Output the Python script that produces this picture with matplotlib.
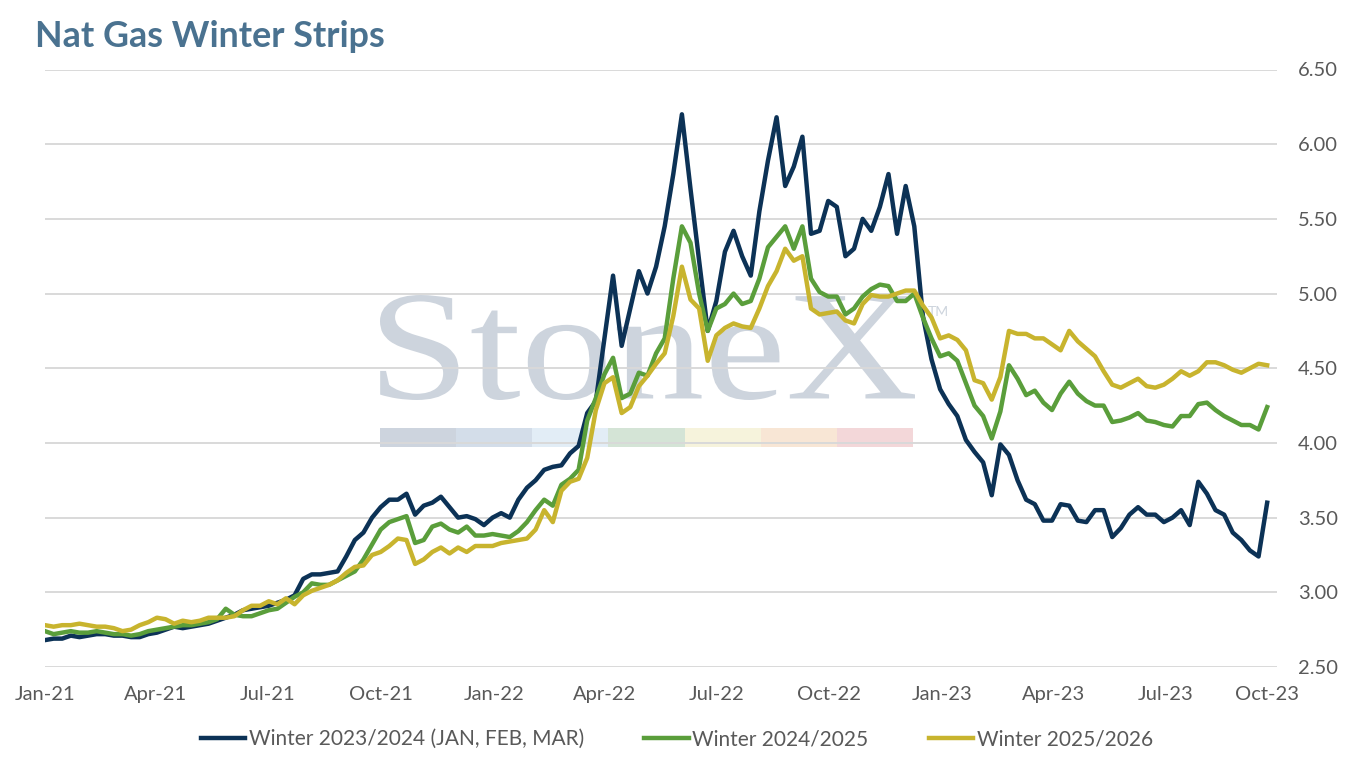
import numpy as np
import pandas as pd
import matplotlib
matplotlib.use("Agg")
import matplotlib.pyplot as plt
from matplotlib.textpath import TextPath
from matplotlib.patches import PathPatch, Rectangle
from matplotlib.font_manager import FontProperties
from matplotlib.transforms import Affine2D

plt.rcParams['font.family'] = ['Lato', 'DejaVu Sans']

# weekly readings, first Friday of 2021 onwards
dates = pd.date_range('2021-01-01', periods=143, freq='7D')

navy = [2.68,2.69,2.69,2.71,2.70,2.71,2.72,2.72,2.71,2.71,
        2.70,2.70,2.72,2.73,2.75,2.77,2.76,2.77,2.78,2.79,
        2.81,2.83,2.85,2.88,2.89,2.90,2.91,2.93,2.95,2.98,
        3.09,3.12,3.12,3.13,3.14,3.24,3.35,3.40,3.50,3.57,
        3.62,3.62,3.66,3.52,3.58,3.60,3.64,3.57,3.50,3.51,
        3.49,3.45,3.50,3.53,3.50,3.62,3.70,3.75,3.82,3.84,
        3.85,3.93,3.98,4.20,4.28,4.70,5.12,4.65,4.90,5.15,
        5.00,5.18,5.45,5.80,6.20,5.70,5.22,4.75,4.95,5.28,
        5.42,5.25,5.12,5.55,5.89,6.18,5.72,5.85,6.05,5.40,
        5.42,5.62,5.58,5.25,5.30,5.50,5.42,5.58,5.80,5.40,
        5.72,5.45,4.85,4.56,4.36,4.26,4.18,4.02,3.94,3.87,
        3.65,3.99,3.92,3.75,3.62,3.59,3.48,3.48,3.59,3.58,
        3.48,3.47,3.55,3.55,3.37,3.43,3.52,3.57,3.52,3.52,
        3.47,3.50,3.55,3.45,3.74,3.66,3.55,3.52,3.40,3.35,
        3.28,3.24,3.60]

green = [2.74,2.72,2.73,2.74,2.73,2.73,2.74,2.73,2.72,2.72,
         2.71,2.72,2.74,2.75,2.76,2.77,2.78,2.78,2.79,2.80,
         2.82,2.89,2.85,2.84,2.84,2.86,2.88,2.89,2.93,2.97,
         3.00,3.06,3.05,3.05,3.08,3.11,3.14,3.22,3.32,3.42,
         3.47,3.49,3.51,3.33,3.35,3.44,3.46,3.42,3.40,3.44,
         3.38,3.38,3.39,3.38,3.37,3.41,3.47,3.55,3.62,3.58,
         3.72,3.76,3.82,4.15,4.30,4.46,4.57,4.30,4.33,4.47,
         4.45,4.60,4.70,5.10,5.45,5.34,5.00,4.75,4.90,4.93,
         5.00,4.93,4.95,5.10,5.31,5.38,5.45,5.30,5.45,5.10,
         5.01,4.98,4.98,4.86,4.90,4.98,5.03,5.06,5.05,4.95,
         4.95,5.00,4.84,4.70,4.58,4.60,4.55,4.40,4.25,4.18,
         4.03,4.21,4.52,4.43,4.32,4.35,4.27,4.22,4.33,4.41,
         4.33,4.28,4.25,4.25,4.14,4.15,4.17,4.20,4.15,4.14,
         4.12,4.11,4.18,4.18,4.26,4.27,4.22,4.18,4.15,4.12,
         4.12,4.09,4.24]

gold = [2.78,2.77,2.78,2.78,2.79,2.78,2.77,2.77,2.76,2.74,
        2.75,2.78,2.80,2.83,2.82,2.79,2.81,2.80,2.81,2.83,
        2.83,2.83,2.84,2.88,2.91,2.91,2.94,2.92,2.96,2.92,
        2.98,3.01,3.03,3.05,3.08,3.13,3.17,3.18,3.25,3.27,
        3.31,3.36,3.35,3.19,3.22,3.27,3.30,3.26,3.30,3.27,
        3.31,3.31,3.31,3.33,3.34,3.35,3.36,3.42,3.55,3.47,
        3.68,3.74,3.76,3.90,4.22,4.40,4.44,4.20,4.24,4.38,
        4.45,4.53,4.60,4.85,5.18,4.96,4.90,4.55,4.72,4.77,
        4.80,4.78,4.77,4.90,5.05,5.15,5.30,5.22,5.25,4.90,
        4.86,4.87,4.88,4.82,4.80,4.93,4.99,4.98,4.98,5.00,
        5.02,5.02,4.92,4.84,4.70,4.72,4.69,4.62,4.42,4.40,
        4.29,4.44,4.75,4.73,4.73,4.70,4.70,4.66,4.62,4.75,
        4.68,4.63,4.58,4.48,4.39,4.37,4.40,4.43,4.38,4.37,
        4.39,4.43,4.48,4.45,4.48,4.54,4.54,4.52,4.49,4.47,
        4.50,4.53,4.52]

labels = ['Winter 2023/2024 (JAN, FEB, MAR)', 'Winter 2024/2025', 'Winter 2025/2026']
colors = ['#0c3256', '#5a9e3b', '#c8b42e']

tick_labels = ['Jan-21', 'Apr-21', 'Jul-21', 'Oct-21', 'Jan-22', 'Apr-22',
               'Jul-22', 'Oct-22', 'Jan-23', 'Apr-23', 'Jul-23', 'Oct-23']
tick_dates = list(pd.date_range('2021-01-01', '2023-07-01', freq='QS')) + [dates[-1]]

W, H = 1356, 759
fig = plt.figure(figsize=(W / 100, H / 100), dpi=100)
ax = fig.add_axes([45 / W, 1 - 667 / H, 1232 / W, 597.5 / H])
ax.set_facecolor('none')

# ---------- watermark (behind the axes) ----------
tp = TextPath((0, 0), "StoneX", size=100, prop=FontProperties(family='Liberation Serif'))
bb = tp.get_extents()
x0, y0, w, h = 380 / W, 1 - 400 / H, 535 / W, 105 / H
trf = Affine2D().translate(-bb.x0, -bb.y0).scale(w / bb.width, h / bb.height).translate(x0, y0)
wm = PathPatch(tp, facecolor='#cdd4dd', edgecolor='none', zorder=-2,
               transform=trf + fig.transFigure)
fig.add_artist(wm)
fig.text(928 / W, 1 - 316 / H, 'TM', fontsize=10, color='#cdd4dd', zorder=-2)
bar_cols = ['#cdd4de', '#d3dde9', '#e2edf6', '#d4e4d6', '#f6f3dc', '#f8e6d5', '#f3d7d9']
seg = (913 - 380) / len(bar_cols)
for k, c in enumerate(bar_cols):
    fig.add_artist(Rectangle(((380 + k * seg) / W, 1 - 447 / H), seg / W, 19 / H,
                             facecolor=c, edgecolor='none', zorder=-2,
                             transform=fig.transFigure))

# ---------- series ----------
for vals, lab, col in zip([navy, green, gold], labels, colors):
    ax.plot(dates, vals, color=col, lw=3.2, label=lab, solid_joinstyle='round')

ax.set_ylim(2.5, 6.5)
ax.set_xlim(pd.Timestamp('2021-01-01'), pd.Timestamp('2023-09-30'))
ax.set_yticks(np.arange(2.5, 6.51, 0.5))
ax.set_yticklabels([f'{v:.2f}' for v in np.arange(2.5, 6.51, 0.5)])
ax.set_xticks(tick_dates)
ax.set_xticklabels(tick_labels)
ax.yaxis.tick_right()
ax.grid(axis='y', color='#d9d9d9', lw=1.4)
ax.set_axisbelow(True)
for s in ax.spines.values():
    s.set_visible(False)
ax.tick_params(axis='both', length=0, labelsize=14.5, colors='#595959')
ax.tick_params(axis='y', pad=15)
ax.tick_params(axis='x', pad=14)

fig.text(35 / W, 1 - 47 / H, 'Nat Gas Winter Strips', fontsize=25.8, fontweight='bold',
         color='#4a7290', va='baseline')

fig.legend(loc='center', bbox_to_anchor=(0.499, 1 - 739 / H), ncol=3, frameon=False,
           fontsize=15, handlelength=2.15, handletextpad=0.15, columnspacing=2.9,
           labelcolor='#595959')

fig.savefig('out.png', dpi=100)
